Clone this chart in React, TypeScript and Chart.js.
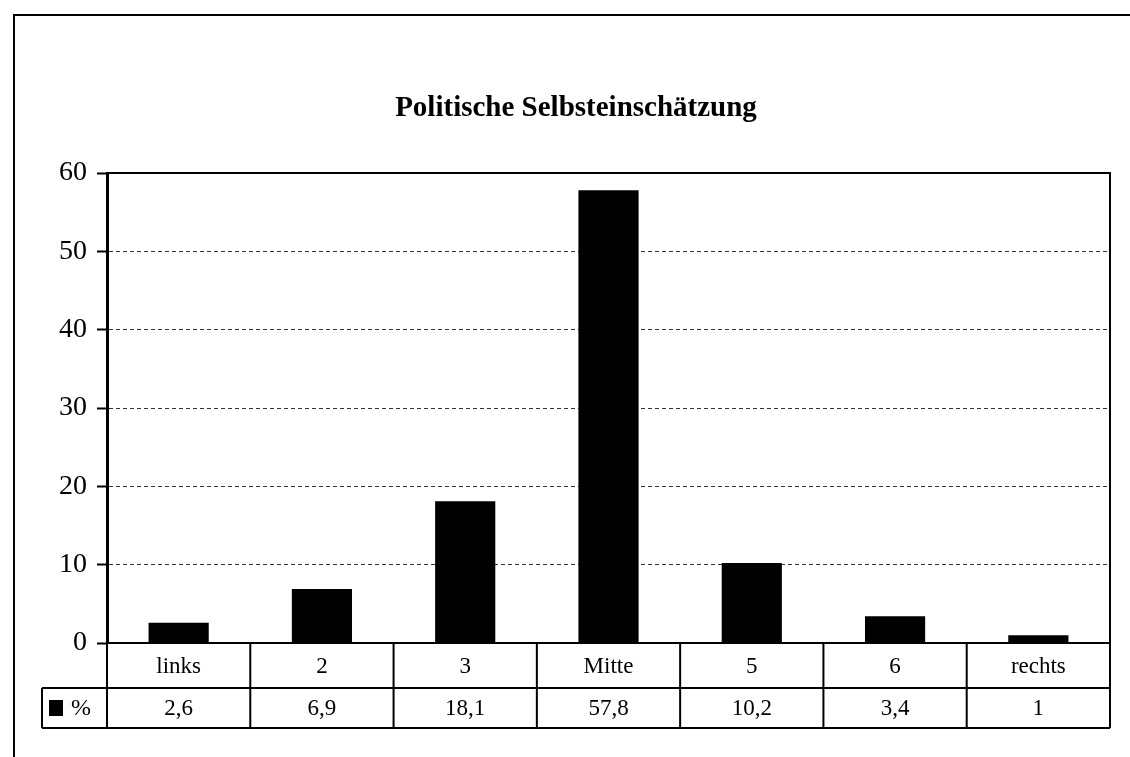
import React, { useEffect, useRef } from 'react';
import { Chart, registerables } from 'chart.js';

Chart.register(...registerables);

const chartTitle = 'Politische Selbsteinschätzung';
const categories = ['links', '2', '3', 'Mitte', '5', '6', 'rechts'];
const percentValues = [2.6, 6.9, 18.1, 57.8, 10.2, 3.4, 1];
const seriesName = '%';
const yMin = 0;
const yMax = 60;
const yStep = 10;

const SERIF = '"Liberation Serif", "Times New Roman", "DejaVu Serif", serif';

const fmt = (v: number) => String(v).replace('.', ',');

const tablePlugin = {
  id: 'dataTable',
  afterDraw(chart: any) {
    const { ctx, chartArea: ca, scales } = chart;
    const x = scales.x;
    const row1Bottom = ca.bottom + 45;
    const row2Bottom = row1Bottom + 40;
    const legendLeft = 42;
    const half = (x.getPixelForValue(1) - x.getPixelForValue(0)) / 2;
    ctx.save();
    ctx.strokeStyle = '#000';
    ctx.lineWidth = 2;
    ctx.setLineDash([]);
    // outer frame (left + top)
    ctx.beginPath();
    ctx.moveTo(14, chart.height);
    ctx.lineTo(14, 15);
    ctx.lineTo(chart.width, 15);
    ctx.stroke();
    // plot border top + right
    ctx.beginPath();
    ctx.moveTo(ca.left, ca.top);
    ctx.lineTo(ca.right, ca.top);
    ctx.lineTo(ca.right, row2Bottom);
    ctx.stroke();
    // table horizontals
    ctx.beginPath();
    ctx.moveTo(ca.left, ca.bottom);
    ctx.lineTo(ca.right, ca.bottom);
    ctx.moveTo(legendLeft, row1Bottom);
    ctx.lineTo(ca.right, row1Bottom);
    ctx.moveTo(legendLeft, row2Bottom);
    ctx.lineTo(ca.right, row2Bottom);
    ctx.moveTo(legendLeft, row1Bottom);
    ctx.lineTo(legendLeft, row2Bottom);
    ctx.stroke();
    // verticals
    ctx.beginPath();
    for (let i = 0; i < categories.length; i++) {
      const px = x.getPixelForValue(i) - half;
      ctx.moveTo(px, ca.bottom);
      ctx.lineTo(px, row2Bottom);
    }
    ctx.stroke();
    // legend key
    const midY = (row1Bottom + row2Bottom) / 2;
    ctx.fillStyle = '#000';
    ctx.fillRect(49, midY - 8, 14, 16);
    ctx.font = `24px ${SERIF}`;
    ctx.textBaseline = 'middle';
    ctx.textAlign = 'left';
    ctx.fillText(seriesName, 71, midY + 1);
    // values row
    ctx.font = `23px ${SERIF}`;
    ctx.textAlign = 'center';
    percentValues.forEach((v, i) => {
      ctx.fillText(fmt(v), x.getPixelForValue(i), midY + 1);
    });
    ctx.restore();
  },
};

export default function App() {
  const ref = useRef<HTMLCanvasElement | null>(null);
  useEffect(() => {
    if (!ref.current) return;
    const chart = new Chart(ref.current, {
      type: 'bar',
      data: {
        labels: categories,
        datasets: [
          {
            label: seriesName,
            data: percentValues,
            backgroundColor: '#000',
            borderWidth: 0,
            barPercentage: 0.42,
            categoryPercentage: 1,
          },
        ],
      },
      options: {
        responsive: false,
        animation: false,
        layout: { padding: { left: 42, right: 20, top: 0, bottom: 0 } },
        plugins: {
          legend: { display: false },
          tooltip: { enabled: false },
          title: {
            display: true,
            text: chartTitle,
            color: '#000',
            font: { family: SERIF, size: 29, weight: 'bold', lineHeight: 1.2 },
            padding: { top: 91, bottom: 47.2 },
          },
        },
        scales: {
          x: {
            offset: true,
            grid: { display: false, drawTicks: false, tickLength: 0 },
            border: { display: false },
            ticks: {
              color: '#000',
              font: { family: SERIF, size: 23 },
              padding: 10,
              maxRotation: 0,
              autoSkip: false,
            },
            afterFit: (s: any) => {
              s.height = 114;
            },
          },
          y: {
            min: yMin,
            max: yMax,
            grid: {
              color: '#333',
              lineWidth: 1,
              drawTicks: true,
              tickLength: 10,
              tickColor: '#000',
              tickWidth: 2,
              tickBorderDash: [],
            },
            border: { display: true, color: '#000', width: 3, dash: [4, 3] },
            ticks: {
              stepSize: yStep,
              color: '#000',
              font: { family: SERIF, size: 28 },
              padding: 10,
            },
            afterFit: (s: any) => {
              s.width = 65;
            },
          },
        },
      },
      plugins: [tablePlugin],
    });
    return () => chart.destroy();
  }, []);
  return (
    <div style={{ position: 'absolute', left: 0, top: 0, width: 1130, height: 757, background: '#fff' }}>
      <canvas ref={ref} width={1130} height={757} />
    </div>
  );
}
